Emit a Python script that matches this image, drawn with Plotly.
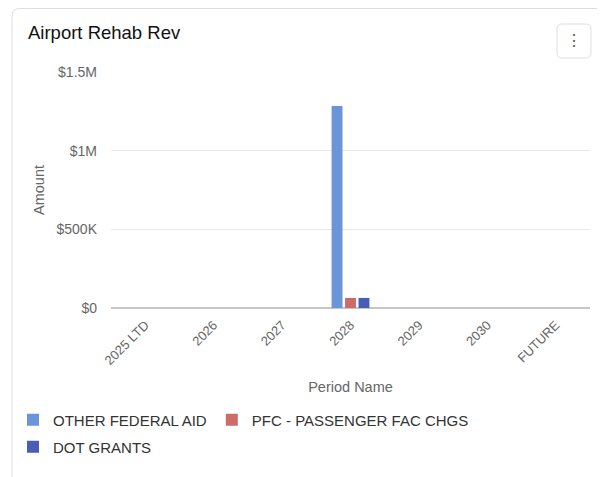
import plotly.graph_objects as go

periods = ["2025 LTD", "2026", "2027", "2028", "2029", "2030", "FUTURE"]
other_federal_aid = [0, 0, 0, 1284000, 0, 0, 0]
pfc_passenger = [0, 0, 0, 64000, 0, 0, 0]
dot_grants = [0, 0, 0, 64000, 0, 0, 0]
series_names = ["OTHER FEDERAL AID", "PFC - PASSENGER FAC CHGS", "DOT GRANTS"]
series_colors = ["#6a95d8", "#cc6b69", "#4a5cb6"]
series_legends = ["legend", "legend", "legend2"]
y_tickvals = [0, 500000, 1000000, 1500000]
y_ticktext = ["$0", "$500K", "$1M", "$1.5M"]

# page body has an 8px margin, so the figure is drawn 8px smaller
W, H = 597, 469
L, R, T, B = 103, 15, 64, 169
pw, ph = W - L - R, H - T - B

def px(x):
    return (x - L) / pw

def py(y):
    return (H - B - y) / ph

fig = go.Figure()
for name, vals, col, lg in zip(series_names, [other_federal_aid, pfc_passenger, dot_grants],
                                series_colors, series_legends):
    fig.add_trace(go.Bar(
        x=periods, y=vals, name=name, legend=lg,
        marker=dict(color=col, line=dict(width=0)),
    ))

def rounded_rect(x0, y0, x1, y1, r):
    pts = [
        f"M {px(x0 + r)},{py(y0)}",
        f"L {px(x1 - r)},{py(y0)}",
        f"Q {px(x1)},{py(y0)} {px(x1)},{py(y0 + r)}",
        f"L {px(x1)},{py(y1 - r)}",
        f"Q {px(x1)},{py(y1)} {px(x1 - r)},{py(y1)}",
        f"L {px(x0 + r)},{py(y1)}",
        f"Q {px(x0)},{py(y1)} {px(x0)},{py(y1 - r)}",
        f"L {px(x0)},{py(y0 + r)}",
        f"Q {px(x0)},{py(y0)} {px(x0 + r)},{py(y0)}",
        "Z",
    ]
    return " ".join(pts)

shapes = [
    dict(type="path", xref="paper", yref="paper", path=rounded_rect(4, 0.5, 640, 520, 8),
         line=dict(color="#dedede", width=1), fillcolor="rgba(0,0,0,0)", layer="below"),
    dict(type="path", xref="paper", yref="paper", path=rounded_rect(549, 16, 583, 50, 5),
         line=dict(color="#dedede", width=1), fillcolor="white", layer="above"),
]

legend_common = dict(orientation="h", xanchor="left", yanchor="middle",
                     font=dict(size=15, color="#333333", family="Liberation Sans, Arial, sans-serif"),
                     itemwidth=30, bgcolor="rgba(0,0,0,0)", borderwidth=0)

fig.update_layout(
    width=W, height=H,
    margin=dict(l=L, r=R, t=T, b=B, autoexpand=False),
    paper_bgcolor="white", plot_bgcolor="white",
    font=dict(family="Liberation Sans, Arial, sans-serif", size=13, color="#666666"),
    title=dict(text="Airport Rehab Rev", x=20 / W, xanchor="left", xref="container",
               y=1 - 25 / H, yanchor="middle", yref="container",
               font=dict(size=18.5, color="#111111")),
    barmode="group", bargap=0.41, bargroupgap=0.19,
    showlegend=True,
    legend=dict(x=px(5), y=py(412), **legend_common),
    legend2=dict(x=px(5), y=py(439), **legend_common),
    xaxis=dict(type="category", tickangle=-45, showgrid=False, showline=False,
               ticks="", ticklabelstandoff=6, automargin=False,
               tickfont=dict(size=13, color="#666666"),
               title=dict(text="Period Name", font=dict(size=14.5, color="#666666"), standoff=14)),
    yaxis=dict(range=[0, 1500000], tickvals=y_tickvals, ticktext=y_ticktext,
               showgrid=True, gridcolor="#e8e8e8", gridwidth=1,
               zeroline=True, zerolinecolor="#c6c6c6", zerolinewidth=2,
               ticks="", ticklabelstandoff=13, automargin=False,
               tickfont=dict(size=14, color="#666666"),
               title=dict(text="Amount", font=dict(size=14.5, color="#666666"), standoff=8)),
    shapes=shapes,
    annotations=[dict(text="⋮", xref="paper", yref="paper", x=px(566), y=py(33),
                      showarrow=False, font=dict(size=16, color="#555555"),
                      xanchor="center", yanchor="middle")],
)

fig.write_html("out.html")
